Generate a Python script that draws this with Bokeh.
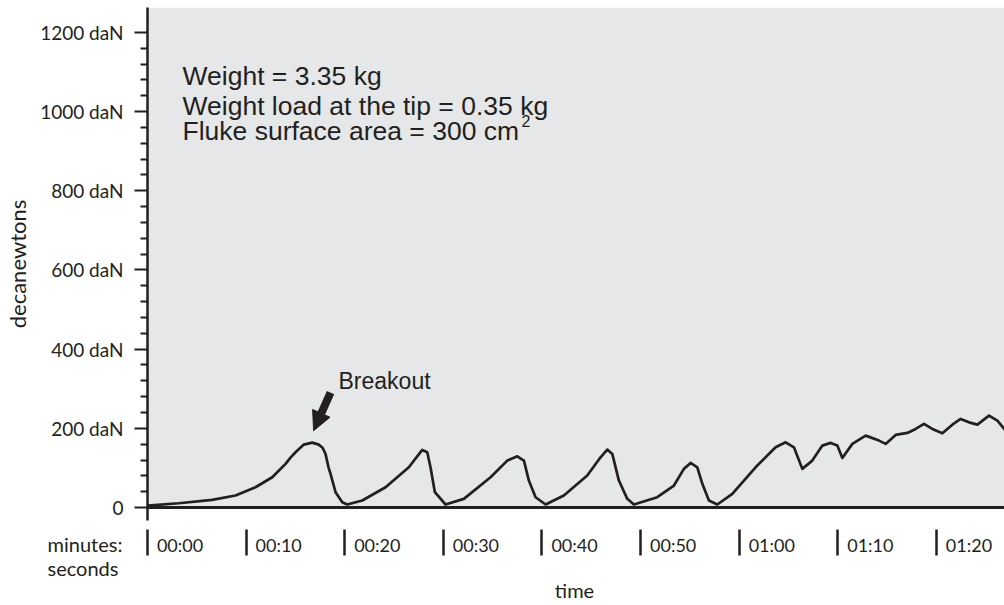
from bokeh.plotting import figure
from bokeh.models import (FixedTicker, BoxAnnotation, Span, Label, Arrow, NormalHead, Range1d,
                          LinearAxis, Title)
from bokeh.embed import file_html
from bokeh.resources import INLINE

# ---------------- data ----------------
time_s = [0.0, 3.17, 6.56, 8.92, 10.95, 12.65, 14.0, 14.50, 15.01, 15.85, 16.70, 17.37, 17.75,
          18.05, 18.36, 18.56, 19.07, 19.75, 20.25, 21.78, 24.14, 26.50, 27.86, 28.37, 28.70,
          29.14, 30.22, 32.08, 34.79, 36.48, 37.50, 38.17, 38.67, 39.35, 40.37, 42.22, 44.59,
          45.94, 46.62, 47.13, 47.80, 48.65, 49.32, 51.69, 53.38, 54.39, 55.07, 55.75, 56.26,
          56.93, 57.78, 59.30, 61.66, 63.69, 64.71, 65.55, 66.40, 67.41, 68.43, 69.27, 69.95,
          70.46, 71.47, 72.82, 74.17, 74.85, 75.86, 77.05, 77.89, 78.73, 79.58, 80.60, 81.61,
          82.45, 83.30, 84.15, 85.33, 86.18, 87.02]
force_daN = [5.0, 10.8, 19.4, 30.3, 51.2, 76.4, 110.2, 126.0, 139.5, 158.9, 163.9, 158.9, 151.0,
             135.4, 101.0, 85.0, 38.6, 13.4, 7.6, 17.7, 51.2, 101.6, 145.5, 139.5, 100.9,
             38.6, 7.6, 21.9, 76.4, 118.5, 129.4, 118.5, 68.1, 26.0, 7.6, 30.3, 80.7,
             126.9, 146.3, 135.4, 68.1, 21.9, 7.6, 26.0, 55.5, 97.6, 112.7, 101.6, 59.8,
             17.7, 7.6, 34.6, 101.6, 152.1, 164.7, 152.1, 97.6, 118.5, 156.4, 163.2, 156.4,
             125.3, 160.7, 181.6, 169.0, 160.7, 183.4, 188.4, 198.5, 211.1, 198.5, 187.4, 209.3,
             223.7, 215.1, 209.3, 232.0, 219.4, 194.2]

x_tick_seconds = [0, 10, 20, 30, 40, 50, 60, 70, 80]
x_tick_labels = ["00:00", "00:10", "00:20", "00:30", "00:40", "00:50", "01:00", "01:10", "01:20"]
y_tick_values = [0, 200, 400, 600, 800, 1000, 1200]
y_tick_labels = ["0", "200 daN", "400 daN", "600 daN", "800 daN", "1000 daN", "1200 daN"]
y_minor_step = 40

note_lines = ["Weight = 3.35 kg", "Weight load at the tip = 0.35 kg", "Fluke surface area = 300 cm"]
note_superscript = "2"
breakout_text = "Breakout"
x_unit_caption = "minutes:\nseconds"
x_axis_title = "time"

# ---------------- styling ----------------
INK = "#231f20"
PANEL = "#e6e7e8"
AXIS_FONT = "Lato"
NOTE_FONT = "Liberation Sans"
LABEL_SHIFT = 3.3      # tick labels sit to the right of their bar
TITLE_AT = 43.3        # "time" centred under the frame
NB = "\u00a0"

p = figure(width=1004, height=605,
           x_range=Range1d(0, 86.9), y_range=Range1d(-32.8, 1263),
           output_backend="svg", toolbar_location=None,
           min_border_left=147, min_border_right=0, min_border_top=7, min_border_bottom=85,
           background_fill_color="white", border_fill_color="white",
           outline_line_color=None)
p.xgrid.visible = False
p.ygrid.visible = False

p.add_layout(BoxAnnotation(bottom=0, fill_color=PANEL, fill_alpha=1.0,
                           line_color=None, level="underlay"))
p.add_layout(Span(location=0, dimension="width", line_color=INK, line_width=3))

p.line(time_s, force_daN, line_color=INK, line_width=2.7, line_join="round")

# x axis: bars as minor ticks, labels as major ticks shifted right
xa = p.xaxis[0]
label_pos = [s + LABEL_SHIFT for s in x_tick_seconds]
xa.ticker = FixedTicker(ticks=label_pos, minor_ticks=x_tick_seconds)
xa.major_label_overrides = {pos: lab for pos, lab in zip(label_pos, x_tick_labels)}
xa.axis_line_color = None
xa.major_tick_line_color = None
xa.major_tick_in = 0
xa.major_tick_out = 0
xa.minor_tick_line_color = INK
xa.minor_tick_line_width = 2.5
xa.minor_tick_in = -9
xa.minor_tick_out = 35
xa.major_label_standoff = -22
xa.major_label_text_font = AXIS_FONT
xa.major_label_text_font_size = "18px"
xa.major_label_text_color = INK

# second bottom axis: the "time" title
cap = LinearAxis(ticker=FixedTicker(ticks=[TITLE_AT]),
                 major_label_overrides={TITLE_AT: NB + "\n" + NB + "\n" + x_axis_title},
                 axis_line_color=None, major_tick_line_color=None, minor_tick_line_color=None,
                 major_tick_in=0, major_tick_out=0, major_label_standoff=-38,
                 major_label_text_font=AXIS_FONT, major_label_text_font_size="20px",
                 major_label_text_color=INK)
p.add_layout(cap, "below")

# "minutes:/seconds" caption to the left of the time labels
p.add_layout(Title(text=x_unit_caption, align="left", offset=-100, standoff=-148,
                   vertical_align="top", text_font=AXIS_FONT, text_font_size="20px",
                   text_font_style="normal", text_color=INK), "below")

# y axis
ya = p.yaxis[0]
ya.ticker = FixedTicker(ticks=y_tick_values,
                        minor_ticks=[v for v in range(0, y_tick_values[-1] + 1, y_minor_step)
                                     if v not in y_tick_values])
ya.major_label_overrides = dict(zip(y_tick_values, y_tick_labels))
ya.axis_line_color = INK
ya.axis_line_width = 2.5
ya.major_tick_line_color = INK
ya.major_tick_line_width = 2
ya.major_tick_in = 0
ya.major_tick_out = 13
ya.minor_tick_line_color = INK
ya.minor_tick_line_width = 2
ya.minor_tick_in = 0
ya.minor_tick_out = 7
ya.major_label_standoff = 11
ya.major_label_text_font = AXIS_FONT
ya.major_label_text_font_size = "19px"
ya.major_label_text_color = INK
ya.axis_label = "decanewtons"
ya.axis_label_text_font = AXIS_FONT
ya.axis_label_text_font_size = "22px"
ya.axis_label_text_font_style = "normal"
ya.axis_label_text_color = INK
ya.axis_label_standoff = 6

# annotation text block
for txt, yv in zip(note_lines, [1089, 1014, 951]):
    p.add_layout(Label(x=3.55, y=yv, text=txt, text_font=NOTE_FONT, text_font_size="26.5px",
                       text_color=INK, text_baseline="alphabetic", text_align="left"))
p.add_layout(Label(x=37.93, y=977, text=note_superscript, text_font=NOTE_FONT,
                   text_font_size="16px", text_color=INK, text_baseline="alphabetic"))

# breakout label and arrow
p.add_layout(Label(x=19.37, y=320, text=breakout_text, text_font=NOTE_FONT,
                   text_font_size="23px", text_color=INK, text_baseline="alphabetic"))
p.add_layout(Arrow(x_start=18.56, y_start=290, x_end=16.84, y_end=194,
                   line_color=INK, line_width=8,
                   end=NormalHead(size=19, fill_color=INK, line_color=INK, line_width=1)))

open("out.html", "w").write(file_html(p, INLINE))
